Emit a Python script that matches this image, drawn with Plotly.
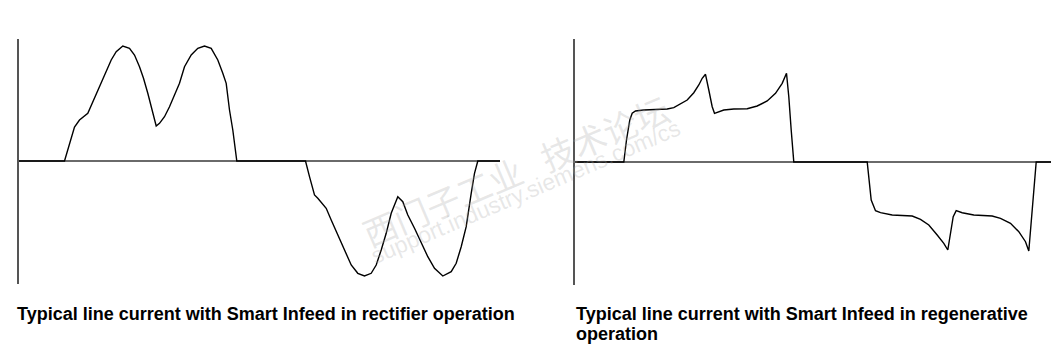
import plotly.graph_objects as go

W, H = 1051, 352

# Rectifier operation waveform (time in arbitrary units, current in arbitrary units)
rect_t = [0, 46, 56, 61, 69.3, 74.3, 81, 87.7, 92.7, 97.7, 104.3, 111, 116, 121, 125, 129.3,
          134.3, 137.7, 141, 146, 151, 156, 161, 166, 172.7, 179.3, 186, 192.7, 199.3, 204.3,
          207.7, 211, 214.3, 218.3,
          287, 291, 296, 299.3, 307.7, 312.7, 319.3, 326, 332.7, 339.3, 346, 352.7, 357.7,
          362.7, 367.7, 372.7, 379.3, 384.3, 389.3, 396, 402.7, 409.3, 416, 424.3, 432.7,
          437.7, 442.7, 447.7, 452.7, 456, 459.3, 481.5]
rect_i = [0, 0, 34, 41, 47.7, 59.3, 74.3, 91, 101, 109.3, 115, 112.7, 106, 94.3, 82.7, 67.7,
          49.3, 35, 37.7, 44.3, 54.3, 66, 77.7, 94.3, 106, 112.7, 115, 112.7, 101, 87.7,
          77.7, 51, 31, 0,
          0, -15.7, -34, -37.3, -47.3, -59, -74, -89, -104, -112.3, -115, -112.3, -104,
          -89, -72.3, -52.3, -35.7, -40.7, -54, -67.3, -82.3, -95.7, -107.3, -115, -110.7,
          -102.3, -85.7, -65.7, -32.3, -12.3, 0, 0]

# Regenerative operation waveform
regen_t = [0, 49.3, 52, 55.3, 57.7, 61, 69.3, 79.3, 92.7, 99.3, 106, 112.7, 119.3, 124.3,
           127.7, 131, 134.3, 137.7, 140, 144.3, 149.3, 159.3, 172.7, 182.7, 192.7, 201,
           207.7, 212, 214.3, 216.7, 219.3,
           292.7, 294.3, 296.7, 301, 306, 317.7, 337.7, 346, 354.3, 362.7, 369.3, 373.3,
           376, 378.7, 381.7, 387.7, 399.3, 417.7, 426, 436, 444.3, 451, 454.3, 456.7,
           459.3, 461.7, 477]
regen_i = [0, 0, 22, 42, 48.7, 51, 52, 52.7, 53, 54.3, 58, 62, 69.3, 77,
           83.7, 87.7, 72, 55.3, 48.7, 50.3, 52, 53, 53.3, 56, 61, 68.7,
           78.7, 88.7, 65.3, 32, 0,
           0, -18, -38, -48.7, -50.7, -53, -54, -57.3, -63, -73, -81.3, -88,
           -71.3, -54.7, -48.7, -50.7, -53, -54, -56.3, -61.3, -69.7, -79.7, -89, -61.3,
           -28, 0, 0]

caption_left = "Typical line current with Smart Infeed in rectifier operation"
caption_right = ["Typical line current with Smart Infeed in regenerative", "operation"]

fig = go.Figure()
line_style = dict(color="black", width=1.4)
fig.add_trace(go.Scatter(x=rect_t, y=rect_i, mode="lines", line=line_style,
                         xaxis="x", yaxis="y", hoverinfo="skip"))
fig.add_trace(go.Scatter(x=regen_t, y=regen_i, mode="lines", line=line_style,
                         xaxis="x2", yaxis="y2", hoverinfo="skip"))

def px(v):
    return v / W

def py(v):
    return (H - v) / H

common_x = dict(showgrid=False, zeroline=False, showline=False, showticklabels=False,
                ticks="")
common_y = dict(showgrid=False, zeroline=True, zerolinecolor="#6a6a6a", zerolinewidth=1.5,
                showline=True, linecolor="#555555", linewidth=1.5, showticklabels=False,
                ticks="")

fig.update_layout(
    width=W, height=H,
    margin=dict(l=0, r=0, t=0, b=0),
    paper_bgcolor="white", plot_bgcolor="white",
    showlegend=False,
    xaxis=dict(domain=[px(18.5), px(500)], range=[0, 481.5], **common_x),
    yaxis=dict(domain=[py(284), py(39)], range=[-123, 122], anchor="x", **common_y),
    xaxis2=dict(domain=[px(574.5), px(1051)], range=[0, 476.5], anchor="y2", **common_x),
    yaxis2=dict(domain=[py(285), py(39)], range=[-123, 123], anchor="x2", **common_y),
)

# faint watermark
wm = "rgba(170,170,170,0.28)"
fig.add_annotation(text="西门子工业   技术论坛", x=px(515), y=py(170), xref="paper", yref="paper",
                   showarrow=False, textangle=-23,
                   font=dict(family="Noto Sans CJK SC", size=34, color=wm))
fig.add_annotation(text="support.industry.siemens.com/cs", x=px(525), y=py(192), xref="paper",
                   yref="paper", showarrow=False, textangle=-23,
                   font=dict(family="Liberation Sans", size=23, color=wm))

cap_font = dict(family="Liberation Sans", size=18, color="black")
fig.add_annotation(text="<b>" + caption_left + "</b>", x=px(15), y=py(314), xref="paper",
                   yref="paper", xanchor="left", yanchor="middle", showarrow=False,
                   font=cap_font)
fig.add_annotation(text="<b>" + caption_right[0] + "</b>", x=px(574), y=py(314), xref="paper",
                   yref="paper", xanchor="left", yanchor="middle", showarrow=False,
                   font=cap_font)
fig.add_annotation(text="<b>" + caption_right[1] + "</b>", x=px(574), y=py(334), xref="paper",
                   yref="paper", xanchor="left", yanchor="middle", showarrow=False,
                   font=cap_font)

fig.write_html("out.html")
